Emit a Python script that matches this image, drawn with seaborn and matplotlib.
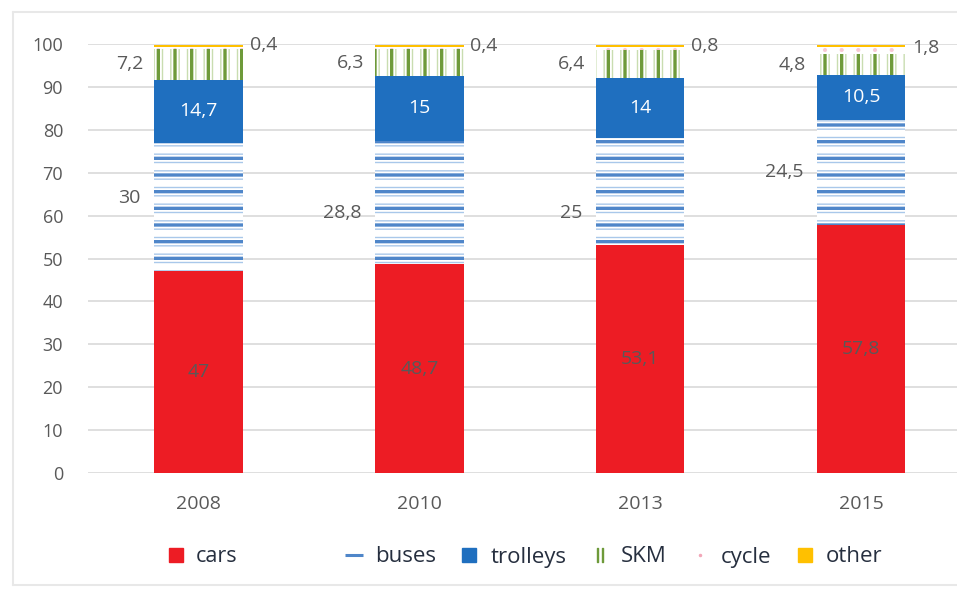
import matplotlib
matplotlib.use("Agg")
import matplotlib.pyplot as plt
import pandas as pd
import seaborn as sns
from matplotlib.lines import Line2D

# Modal split of trips (%), by year
years = ["2008", "2010", "2013", "2015"]
cars = [47.0, 48.7, 53.1, 57.8]
buses = [30.0, 28.8, 25.0, 24.5]
trolleys = [14.7, 15.0, 14.0, 10.5]
skm = [7.2, 6.3, 6.4, 4.8]
cycle = [0.4, 0.4, 0.8, 1.8]
other = [0.5, 0.6, 0.5, 0.4]

modes = ["cars", "buses", "trolleys", "SKM", "cycle", "other"]
shares = pd.DataFrame({"cars": cars, "buses": buses, "trolleys": trolleys,
                       "SKM": skm, "cycle": cycle, "other": other})
tops = shares.cumsum(axis=1)
bottoms = tops - shares
tops["year"] = years

RED = "#ED1C24"
BLUE = "#1F6FBF"
BUS_DARK = "#4F86C9"
BUS_LIGHT = "#A9C8EA"
SKM_DARK = "#6E9A3A"
SKM_LIGHT = "#C9DDB0"
PINK = "#F7C9D3"
YELLOW = "#FFC000"
GRID = "#D9D9D9"
TXT = "#595959"

sns.set_theme(style="whitegrid")
plt.rcParams["font.family"] = ["Open Sans", "DejaVu Sans"]

fig = plt.figure(figsize=(9.57, 5.90), dpi=100)
ax = fig.add_axes([88 / 957, 1 - 473 / 590, 1 - 88 / 957, (473 - 44) / 590])

BAR_W = 0.4


def layer(col, face, edge="none", hatch=None, hatch_lw=1.0):
    """Draw one cumulative layer; later layers cover the lower part."""
    n0 = len(ax.patches)
    with plt.rc_context({"hatch.linewidth": hatch_lw}):
        sns.barplot(data=tops, x="year", y=col, order=years, color="white",
                    saturation=1, width=BAR_W, errorbar=None, ax=ax)
        for p in ax.patches[n0:]:
            p.set_facecolor(face)
            p.set_edgecolor(edge)
            p.set_linewidth(0)
            if hatch:
                p.set_hatch(hatch)
                if hasattr(p, "set_hatch_linewidth"):
                    p.set_hatch_linewidth(hatch_lw)


layer("other", YELLOW)
layer("cycle", "white", PINK, ".", 0.5)
layer("SKM", "white", SKM_LIGHT, "||", 1.0)
layer("SKM", "none", SKM_DARK, "|", 2.4)
layer("trolleys", BLUE)
layer("buses", "white", BUS_LIGHT, "--", 1.0)
layer("buses", "none", BUS_DARK, "-", 2.4)
layer("cars", RED)


def fmt(v):
    return f"{v:g}".replace(".", ",")


LBL = 14
# small vertical nudges for the bus labels
bus_nudge = [2.0, -2.5, -5.0, 0.0]

for i, yr in enumerate(years):
    mid = lambda m: bottoms.loc[i, m] + shares.loc[i, m] / 2
    ax.text(i, mid("cars"), fmt(cars[i]), ha="center", va="center",
            fontsize=LBL, color=TXT)
    ax.text(i, mid("trolleys"), fmt(trolleys[i]), ha="center", va="center",
            fontsize=LBL, color="white")
    ax.annotate(fmt(buses[i]), (i - BAR_W / 2, mid("buses") + bus_nudge[i]),
                xytext=(-10, 0), textcoords="offset points",
                ha="right", va="center", fontsize=LBL, color=TXT)
    ax.annotate(fmt(skm[i]), (i - BAR_W / 2, mid("SKM")),
                xytext=(-8, 0), textcoords="offset points",
                ha="right", va="center", fontsize=LBL, color=TXT)
    ax.annotate(fmt(cycle[i]), (i + BAR_W / 2, mid("cycle")),
                xytext=(5, 2), textcoords="offset points",
                ha="left", va="center", fontsize=LBL, color=TXT)

ax.set_xlim(-0.5, 3.434)
ax.set_ylim(0, 100)
ax.set_yticks(range(0, 101, 10))
ax.set_xlabel("")
ax.set_ylabel("")
ax.xaxis.grid(False)
ax.yaxis.grid(True, color=GRID, linewidth=1.2)
for s in ax.spines.values():
    s.set_visible(False)
ax.tick_params(axis="y", length=0, pad=18, labelsize=13, labelcolor=TXT)
ax.tick_params(axis="x", length=0, pad=16, labelsize=14, labelcolor=TXT)

# outer frame of the chart area
fx0, fy0, fy1 = 13 / 957, 1 - 585 / 590, 1 - 12 / 590
for xs, ys in [([fx0, fx0], [fy0, fy1]), ([fx0, 1], [fy0, fy0]),
               ([fx0, 1], [fy1, fy1])]:
    fig.add_artist(Line2D(xs, ys, transform=fig.transFigure,
                          color="#E8E8E8", lw=1.5))

LEG_TXT = "#262F3F"
h_cars = [Line2D([], [], ls="none", marker="s", ms=10, color=RED)]
h_rest = [
    Line2D([], [], ls="none", marker="_", ms=13, mew=2.2, color=BUS_DARK),
    Line2D([], [], ls="none", marker="s", ms=10, color=BLUE),
    Line2D([], [], ls="none", marker="$||$", ms=10, color=SKM_DARK),
    Line2D([], [], ls="none", marker=".", ms=3, color="#F2A7B8"),
    Line2D([], [], ls="none", marker="s", ms=10, color=YELLOW),
]
leg_kw = dict(frameon=False, handlelength=0.9,
              handletextpad=0.5, borderaxespad=0, borderpad=0,
              labelcolor=LEG_TXT, bbox_transform=fig.transFigure,
              loc="center left")
fig.legend(h_cars, ["cars"], bbox_to_anchor=(166 / 957, 1 - 557 / 590),
           fontsize=15.5, **leg_kw)
fig.legend(h_rest, modes[1:], ncol=5, columnspacing=1.05, fontsize=16,
           bbox_to_anchor=(344 / 957, 1 - 557 / 590), **leg_kw)

fig.savefig("out.png", dpi=100)
